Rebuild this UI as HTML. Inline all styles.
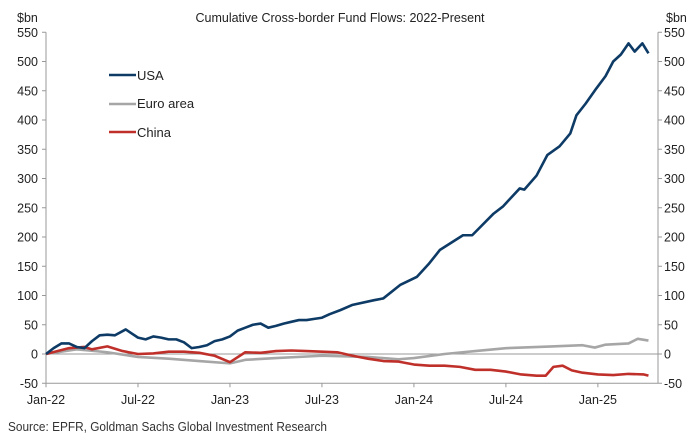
<!DOCTYPE html>
<html><head><meta charset="utf-8"><style>
body{margin:0;background:#fff;width:694px;height:442px;overflow:hidden}
svg text{font-family:"Liberation Sans",Arial,sans-serif;fill:#222}
</style></head><body>
<svg id="chart" width="694" height="442" xmlns="http://www.w3.org/2000/svg">
<text x="340" y="22" font-size="12.5" text-anchor="middle">Cumulative  Cross-border  Fund Flows: 2022-Present</text>
<text x="17" y="22" font-size="12.5">$bn</text>
<text x="666" y="22" font-size="12.5">$bn</text>
<g id="axes"></g>
<g id="series"></g>
<g>
<line x1="109" y1="75" x2="136" y2="75" stroke="#0d3b66" stroke-width="2.6"/>
<text x="137" y="80" font-size="13">USA</text>
<line x1="109" y1="104" x2="136" y2="104" stroke="#a6a6a6" stroke-width="2.6"/>
<text x="137" y="108" font-size="13">Euro area</text>
<line x1="109" y1="132" x2="136" y2="132" stroke="#c0302b" stroke-width="2.6"/>
<text x="137" y="137" font-size="13">China</text>
</g>
<text x="8" y="431" font-size="12.5" textLength="319" lengthAdjust="spacingAndGlyphs" style="fill:#333">Source: EPFR, Goldman Sachs Global Investment Research</text>
</svg>
<script>
const yTicks=[-50,0,50,100,150,200,250,300,350,400,450,500,550];
const xTickLabels=["Jan-22","Jul-22","Jan-23","Jul-23","Jan-24","Jul-24","Jan-25"];
const xTickMonths=[0,6,12,18,24,30,36];
const usaMonths=[0,0.5,1,1.5,2,2.5,3,3.5,4,4.5,5.2,5.6,6,6.5,7,7.5,8,8.5,9,9.5,10,10.5,11,11.5,12,12.5,13,13.5,14,14.5,15,15.5,16,16.5,17,17.5,18,18.5,19.2,20,21.4,22,23.1,24.2,25,25.7,27.2,27.8,29.2,29.8,30.9,31.2,32,32.7,33.5,34.2,34.6,35.2,35.9,36.5,37,37.5,38,38.4,38.9,39.3];
const usaValues=[0,10,18,18,12,10,22,32,33,32,42,35,28,25,30,28,25,25,20,10,12,15,22,25,30,40,45,50,52,45,48,52,55,58,58,60,62,68,75,84,92,95,118,132,155,178,203,203,240,252,283,281,305,340,355,377,408,428,454,475,500,512,531,517,531,514];
const euroMonths=[0,2,4,6,8,10,12,13,15,18,21,23,24,26,28,30,33,35,35.8,36.5,38,38.6,39.3];
const euroValues=[0,8,3,-5,-8,-12,-16,-10,-7,-3,-5,-9,-7,0,5,10,13,15,11,16,18,26,23];
const chinaMonths=[0,1.5,2.5,3,4,5,6,7,8,9,10,11,12,13,14,15,16,17,18,19,19.5,20,21,22,23,24,25,26,27,28,29,30,31,32,32.6,33.1,33.7,34.3,35,36,37,38,39,39.3];
const chinaValues=[0,10,12,8,13,5,0,1,4,4,2,-3,-14,3,2,5,6,5,4,3,0,-3,-8,-12,-13,-18,-20,-20,-22,-27,-27,-30,-35,-37,-37,-22,-20,-28,-32,-35,-36,-34,-35,-37];
const X0=46,X1=658,MPX=15.33,Y0=354,YPX=0.585;
const xs=m=>X0+m*MPX, ys=v=>Y0-v*YPX;
const NS="http://www.w3.org/2000/svg";
const ax=document.getElementById('axes'),sr=document.getElementById('series');
function mk(tag,attrs,parent){const e=document.createElementNS(NS,tag);for(const k in attrs)e.setAttribute(k,attrs[k]);parent.appendChild(e);return e;}
let l=mk('line',{x1:X0,y1:ys(550),x2:X0,y2:ys(-50),stroke:'#999'},ax);


l=mk('line',{x1:X1,y1:ys(550),x2:X1,y2:ys(-50),stroke:'#999'},ax);


l=mk('line',{x1:X0,y1:ys(-50),x2:X1,y2:ys(-50),stroke:'#999'},ax);


l=mk('line',{x1:X0,y1:ys(0),x2:X1,y2:ys(0),stroke:'#999'},ax);


yTicks.forEach(v=>{
 const y=ys(v);
 mk('line',{x1:X0-4,y1:y,x2:X0,y2:y,stroke:'#999'},ax);
 mk('line',{x1:X1,y1:y,x2:X1+4,y2:y,stroke:'#999'},ax);
 let t=mk('text',{x:38,y:y+4.5,'font-size':12.5,'text-anchor':'end'},ax);t.textContent=v;
 
 
 t=mk('text',{x:664,y:y+4.5,'font-size':12.5},ax);t.textContent=v;
 
 
});
xTickMonths.forEach((m,i)=>{
 const x=xs(m);
 mk('line',{x1:x,y1:ys(-50),x2:x,y2:ys(-50)+4,stroke:'#999'},ax);
 const t=mk('text',{x:x,y:404,'font-size':12.5,'text-anchor':'middle'},ax);t.textContent=xTickLabels[i];
 
 
});
function series(ms,vs,color,name){
 const p=mk('polyline',{points:ms.map((m,i)=>xs(m)+','+ys(vs[i])).join(' '),fill:'none',stroke:color,'stroke-width':2.6,'stroke-linejoin':'round'},sr);
 
 
}
series(euroMonths,euroValues,'#a6a6a6','euro-area-line');
series(chinaMonths,chinaValues,'#c0302b','china-line');
series(usaMonths,usaValues,'#0d3b66','usa-line');
</script>
</body></html>
